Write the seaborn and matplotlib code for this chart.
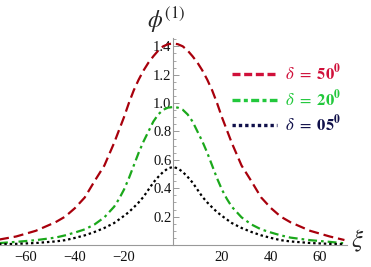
import numpy as np
import pandas as pd
import matplotlib
matplotlib.use("Agg")
import matplotlib.pyplot as plt
from matplotlib.lines import Line2D
from matplotlib.ticker import MultipleLocator, FixedLocator
import seaborn as sns

# values (curves are symmetric about xi = 0)
xi_half = [72, 64, 56, 48, 44, 40, 36, 32, 28, 24, 22, 20, 18, 16, 14, 12, 10, 8, 6, 4, 2, 0]
half_red = [0.035, 0.06, 0.1, 0.16, 0.20, 0.26, 0.335, 0.45, 0.56, 0.72, 0.81, 0.90, 1.00, 1.09, 1.165, 1.23,
            1.285, 1.33, 1.37, 1.40, 1.415, 1.42]
half_green = [0.012, 0.022, 0.034, 0.052, 0.068, 0.088, 0.11, 0.145, 0.195, 0.27, 0.325, 0.39, 0.47, 0.56,
              0.65, 0.73, 0.80, 0.87, 0.92, 0.953, 0.968, 0.972]
half_black = [0.005, 0.008, 0.014, 0.025, 0.034, 0.05, 0.068, 0.092, 0.12, 0.155, 0.18, 0.205, 0.232, 0.265,
              0.30, 0.34, 0.39, 0.44, 0.48, 0.515, 0.54, 0.55]

xi = [-v for v in xi_half] + xi_half[-2::-1]
xi[-1] = 70  # right end of the plotted range

def mirror(h):
    return h + h[-2::-1]

phi_50 = mirror(half_red)
phi_20 = mirror(half_green)
phi_05 = mirror(half_black)

labels = [r"$\delta\ =\ \mathbf{50^0}$", r"$\delta\ =\ \mathbf{20^0}$", r"$\delta\ =\ \mathbf{05^0}$"]
x_ticks = [-60, -40, -20, 20, 40, 60]
y_ticks = [0.2, 0.4, 0.6, 0.8, 1.0, 1.2, 1.4]

sns.set_style("white")
plt.rcParams['font.family'] = ['Liberation Serif', 'DejaVu Serif']
plt.rcParams['mathtext.fontset'] = 'stix'

fig = plt.figure(figsize=(3.71, 2.67), dpi=100)
ax = fig.add_axes([0.0, 0.0824, 0.935, 0.776])

sns.lineplot(x=xi, y=phi_50, ax=ax, color="#A8000C", linewidth=1.6, linestyle=(0, (4.5, 2.2)))
sns.lineplot(x=xi, y=phi_20, ax=ax, color="#1BA81B", linewidth=1.6, linestyle=(0, (4, 1.8, 1.2, 1.8)))
sns.lineplot(x=xi, y=phi_05, ax=ax, color="#000000", linewidth=1.6, linestyle=(0, (1.1, 1.3)))

ax.set_xlim(-70.6, 71)
ax.set_ylim(0, 1.46)

for s in ["top", "right"]:
    ax.spines[s].set_visible(False)
ax.spines["left"].set_position(("data", 0))
ax.spines["bottom"].set_position(("data", 0))
for s in ["left", "bottom"]:
    ax.spines[s].set_color("#999999")
    ax.spines[s].set_linewidth(0.8)

ax.xaxis.set_major_locator(FixedLocator(x_ticks))
ax.xaxis.set_minor_locator(MultipleLocator(5))
ax.yaxis.set_major_locator(FixedLocator(y_ticks))
ax.yaxis.set_minor_locator(MultipleLocator(0.05))
ax.tick_params(axis="both", which="major", direction="in", length=4, width=0.7, color="#999999",
               labelsize=10.5, labelcolor="#111111")
ax.tick_params(axis="both", which="minor", direction="in", length=2.2, width=0.6, color="#999999")
ax.tick_params(axis="y", which="both", left=True, right=False, pad=1)
ax.tick_params(axis="x", which="both", pad=4)
ax.set_xticklabels(["\u221260", "\u221240", "\u221220", "20", "40", "60"])
ax.set_yticklabels(["0.2", "0.4", "0.6", "0.8", "1.0", "1.2", "1.4"])

fig.text(166 / 371, 1 - 20 / 267, r"$\phi^{(1)}$", fontsize=17, ha="center", va="center")
fig.text(358 / 371, 1 - 241 / 267, r"$\xi$", fontsize=18, ha="center", va="center")

handles = [
    Line2D([], [], color="#D0103A", linewidth=2.4, linestyle=(0, (2.4, 1.1))),
    Line2D([], [], color="#22C83C", linewidth=2.4, linestyle=(0, (2.4, 1.0, 1.2, 1.0))),
    Line2D([], [], color="#10104A", linewidth=2.4, linestyle=(0, (1.0, 0.9))),
]
ax.legend(handles, labels, frameon=False, loc="upper left", bbox_to_anchor=(217 / 371, 1 - 48 / 267),
          bbox_transform=fig.transFigure, fontsize=12, labelcolor="linecolor", handlelength=2.7,
          handletextpad=0.5, labelspacing=0.3)

fig.savefig("out.png", dpi=100)
